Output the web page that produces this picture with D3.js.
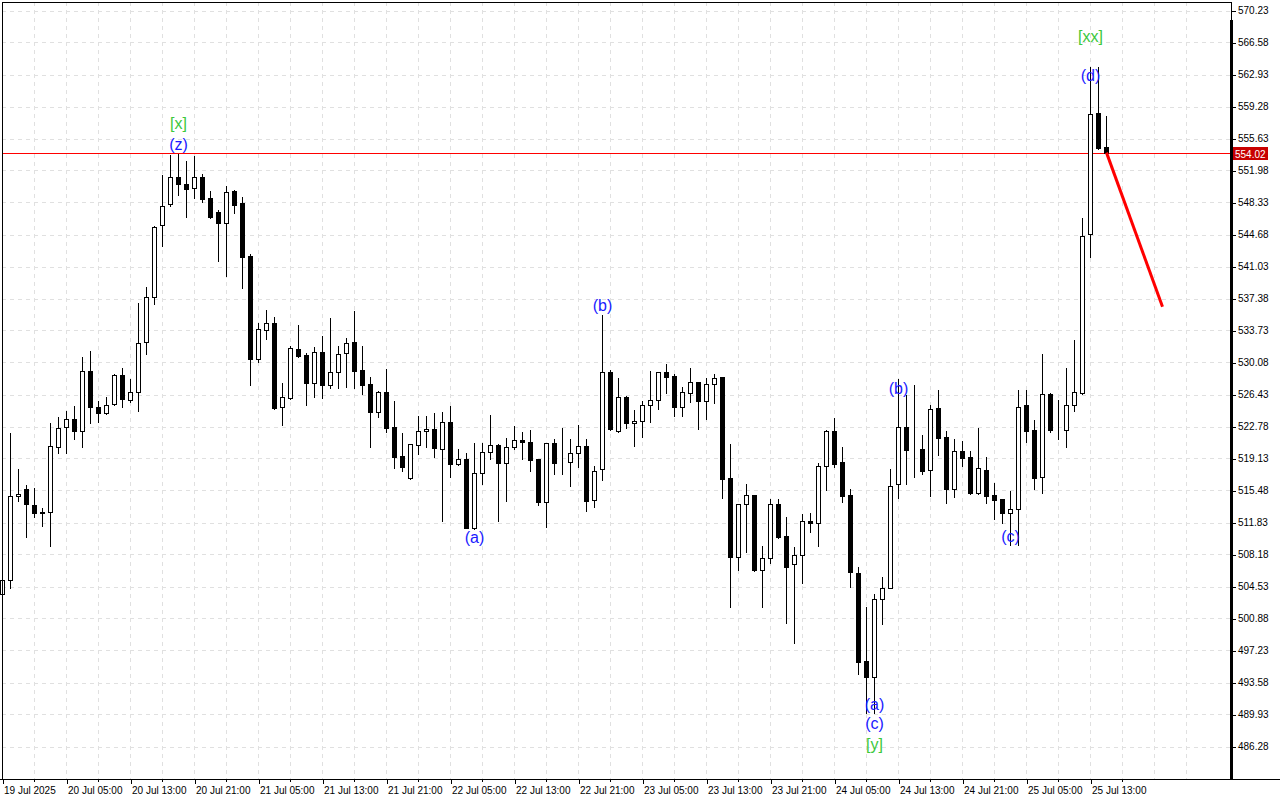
<!DOCTYPE html>
<html>
<head>
<meta charset="utf-8">
<script src="https://cdn.jsdelivr.net/npm/d3@7"></script>
<style>
  html, body { margin: 0; padding: 0; background: #ffffff; }
  svg { display: block; }
</style>
</head>
<body>
<svg id="chart" width="1280" height="800"></svg>
<script>
// ---------------- DATA ----------------
const startTime = Date.UTC(2025, 6, 19, 21, 0); // first bar: 19 Jul 2025 21:00, hourly bars

const opens = [
503.68,505.28,514.82,515.62,513.80,513.03,513.00,520.41,522.69,523.60,
522.30,529.11,525.01,524.36,525.32,528.66,525.77,526.68,532.39,537.52,
545.73,548.13,551.21,550.44,549.95,551.21,548.81,547.22,546.03,549.61,
548.28,542.20,530.52,533.82,534.59,524.97,526.07,531.59,530.94,527.78,
531.28,527.55,528.97,531.13,532.39,529.23,527.60,524.47,526.68,522.73,
519.42,516.94,520.64,522.24,522.46,520.18,523.26,518.47,519.04,511.24,
517.45,519.84,520.67,518.59,520.45,521.21,520.98,519.04,514.14,520.87,
518.70,518.70,519.73,520.56,514.37,517.90,528.97,522.30,526.11,523.15,
523.45,525.20,525.77,528.97,528.54,525.04,526.57,527.82,525.73,527.60,
528.39,516.88,507.93,513.91,514.94,506.42,507.75,513.91,510.29,507.07,
508.09,511.97,511.74,518.31,522.27,518.70,514.94,506.04,496.04,494.18,
503.07,504.40,516.19,522.76,520.14,520.18,517.82,524.86,521.59,515.62,
519.99,519.27,515.23,517.82,514.94,514.48,512.95,513.34,525.27,522.33,
517.02,526.49,522.36,522.36,525.27,526.56,544.74,558.55,554.71
];
const highs = [
505.39,522.01,517.94,516.11,515.73,513.45,523.15,523.83,524.55,525.12,
530.68,531.43,525.69,526.15,528.74,529.46,528.20,536.87,538.69,545.69,
551.47,553.75,553.83,553.07,553.64,551.58,549.64,547.44,550.21,549.76,
548.96,542.46,534.62,536.07,535.27,527.75,531.97,534.36,531.13,531.82,
533.11,535.16,531.97,532.88,535.96,531.97,528.43,526.83,529.34,525.69,
522.01,520.79,523.98,523.98,524.32,524.44,525.12,520.18,519.76,520.87,
520.94,524.10,520.73,521.44,522.81,522.19,522.38,519.07,520.90,521.39,
522.65,521.32,522.92,521.36,518.28,535.50,529.23,528.28,526.26,524.67,
525.69,529.11,529.00,529.91,528.77,527.25,529.42,527.86,528.28,528.77,
528.43,520.75,513.94,516.22,514.97,509.15,514.51,514.51,512.50,509.04,
512.80,512.88,518.65,522.38,523.72,520.41,515.65,506.72,502.16,503.68,
505.65,517.94,528.17,526.38,527.55,521.78,525.27,526.95,522.24,521.36,
521.16,519.99,522.58,519.27,516.37,514.51,515.46,526.95,526.95,523.54,
531.08,526.55,525.85,529.50,532.65,546.58,563.84,563.73,558.15
];
const lows = [
503.45,504.36,514.32,510.14,512.43,511.47,509.19,519.73,519.80,521.32,
520.41,523.22,523.33,524.17,525.20,524.97,525.61,524.59,531.02,536.72,
543.41,547.97,549.15,546.64,548.88,548.42,546.60,541.69,539.95,547.17,
538.61,527.52,530.17,532.76,524.75,522.92,525.89,530.74,525.24,526.18,
526.07,527.21,527.21,527.32,527.21,526.49,520.48,523.90,522.19,518.08,
517.71,516.83,519.65,520.48,519.34,512.04,517.06,518.39,511.17,511.06,
516.19,519.11,512.04,514.32,520.18,519.04,517.71,513.86,511.36,517.40,
517.40,516.03,518.20,513.18,513.60,516.65,522.38,522.12,522.65,520.59,
521.62,523.33,524.81,526.64,524.02,524.02,525.61,522.46,523.67,525.50,
514.66,502.23,506.42,508.50,506.34,502.23,507.18,510.03,500.40,498.05,
504.90,510.78,509.19,515.48,518.20,514.14,504.44,494.55,490.07,490.07,
500.22,504.33,514.59,516.19,517.06,517.37,514.89,519.53,514.02,514.78,
518.31,515.05,515.08,514.02,512.20,511.74,509.27,509.27,520.99,515.65,
515.18,522.17,521.38,520.48,524.52,526.49,542.14,554.43,554.02
];
const closes = [
505.28,514.86,515.05,513.91,512.88,512.92,520.56,522.58,523.60,522.30,
529.11,524.97,524.36,525.20,528.66,525.89,526.68,532.27,537.52,545.50,
547.97,551.21,550.41,549.91,551.21,548.77,546.71,546.03,549.56,548.08,
542.15,530.52,533.87,534.59,524.89,526.11,531.70,530.86,527.78,531.25,
527.55,528.97,531.02,532.31,529.15,527.55,524.47,526.68,522.65,519.34,
518.20,520.75,522.24,522.46,520.30,523.26,518.47,519.04,511.24,517.48,
519.84,520.67,518.59,520.41,521.21,520.98,519.00,514.21,520.87,518.65,
518.68,519.80,520.52,514.32,517.67,528.97,522.46,526.11,523.15,523.41,
525.20,525.77,528.97,528.46,525.04,526.68,527.82,525.73,527.63,528.28,
516.76,507.93,513.91,514.94,506.42,507.75,513.91,510.21,506.79,508.09,
511.97,511.74,518.31,522.25,518.54,514.89,506.15,495.96,494.25,503.07,
504.40,516.03,522.76,520.07,520.07,517.74,524.75,521.51,515.62,519.99,
519.22,515.23,518.02,514.89,514.43,512.95,513.34,525.04,522.25,516.94,
526.49,522.33,522.34,525.19,526.68,544.54,558.39,554.55,554.02
];

const currentPrice = 554.02;

// projected path (bar index, price)
const forecastBars   = [138, 145];
const forecastPrices = [554.02, 536.45];

// wave labels
const waveTexts  = ["[x]", "(z)", "(a)", "(b)", "(b)", "(a)", "(c)", "[y]", "(c)", "(d)", "[xx]"];
const waveBars   = [22, 22, 59, 75, 112, 109, 109, 109, 126, 136, 136];
const wavePrices = [557.29, 554.89, 510.07, 536.53, 527.17, 491.02, 488.96, 486.46, 510.18, 562.76, 567.21];
const waveDegree = ["major","minor","minor","minor","minor","minor","minor","major","minor","minor","major"];

// axis ticks
const priceTicks = [570.23,566.58,562.93,559.28,555.63,551.98,548.33,544.68,541.03,537.38,
                    533.73,530.08,526.43,522.78,519.13,515.48,511.83,508.18,504.53,500.88,
                    497.23,493.58,489.93,486.28];
const timeTickBars = [0,8,16,24,32,40,48,56,64,72,80,88,96,104,112,120,128,136];
const timeTickLabels = ["19 Jul 2025","20 Jul 05:00","20 Jul 13:00","20 Jul 21:00","21 Jul 05:00",
  "21 Jul 13:00","21 Jul 21:00","22 Jul 05:00","22 Jul 13:00","22 Jul 21:00","23 Jul 05:00",
  "23 Jul 13:00","23 Jul 21:00","24 Jul 05:00","24 Jul 13:00","24 Jul 21:00","25 Jul 05:00","25 Jul 13:00"];

// ---------------- LAYOUT ----------------
const W = 1280, H = 800;
const plot = { left: 2, top: 2, right: 1231, bottom: 779 };
const HOUR = 3600 * 1000;
const barTime = i => new Date(startTime + i * HOUR);

const x = d3.scaleUtc()
  .domain([barTime(0), barTime(145)])
  .range([2.5, 2.5 + 8 * 145]);
const y = d3.scaleLinear()
  .domain([486.28, 570.23])
  .range([746.5, 10.5]);

const svg = d3.select("#chart");
const FONT = "'Liberation Sans', Arial, sans-serif";

// grid
const grid = svg.append("g").attr("shape-rendering", "crispEdges");
grid.selectAll("line.h").data(priceTicks).join("line")
  .attr("x1", plot.left).attr("x2", plot.right)
  .attr("y1", d => Math.round(y(d)) + 0.5).attr("y2", d => Math.round(y(d)) + 0.5)
  .attr("stroke", "#e0e0e0").attr("stroke-dasharray", "4,4");
const vGridBars = d3.range(4, 150, 4);
grid.selectAll("line.v").data(vGridBars).join("line")
  .attr("x1", d => x(barTime(d))).attr("x2", d => x(barTime(d)))
  .attr("y1", plot.top).attr("y2", plot.bottom)
  .attr("stroke", "#e0e0e0").attr("stroke-dasharray", "4,4");

// current price line
svg.append("rect")
  .attr("x", plot.left).attr("width", plot.right - plot.left)
  .attr("y", Math.round(y(currentPrice))).attr("height", 1)
  .attr("fill", "#ff0000").attr("shape-rendering", "crispEdges");

// candles
const bars = d3.range(opens.length).map(i => ({
  t: barTime(i), o: opens[i], h: highs[i], l: lows[i], c: closes[i]
}));
const cg = svg.append("g").attr("shape-rendering", "crispEdges");
const candle = cg.selectAll("g").data(bars).join("g");
candle.append("line")
  .attr("x1", d => x(d.t)).attr("x2", d => x(d.t))
  .attr("y1", d => Math.round(y(d.h))).attr("y2", d => Math.round(y(d.l)) + 1)
  .attr("stroke", "#000").attr("stroke-width", 1);
candle.append("rect")
  .attr("x", d => x(d.t) - 2)
  .attr("width", 4)
  .attr("y", d => Math.round(y(Math.max(d.o, d.c))) + 0.5)
  .attr("height", d => Math.max(0, Math.round(y(Math.min(d.o, d.c))) - Math.round(y(Math.max(d.o, d.c)))))
  .attr("fill", d => d.c >= d.o ? "#ffffff" : "#000000")
  .attr("stroke", "#000").attr("stroke-width", 1);

// forecast line
svg.append("path")
  .datum(forecastBars.map((b, i) => [b, forecastPrices[i]]))
  .attr("d", d3.line().x(d => x(barTime(d[0]))).y(d => y(d[1])))
  .attr("fill", "none").attr("stroke", "#ff0000").attr("stroke-width", 3);

// wave labels
svg.append("g").selectAll("text").data(waveTexts).join("text")
  .attr("x", (d, i) => x(barTime(waveBars[i])))
  .attr("y", (d, i) => y(wavePrices[i]))
  .attr("text-anchor", "middle")
  .attr("dominant-baseline", "central")
  .attr("font-family", FONT)
  .attr("font-size", 16)
  .attr("fill", (d, i) => waveDegree[i] === "major" ? "#3cc83c" : "#1a1aff")
  .text(d => d);

// frame
const frame = svg.append("g").attr("shape-rendering", "crispEdges");
frame.append("line").attr("x1", plot.left).attr("x2", plot.right + 1).attr("y1", 2.5).attr("y2", 2.5).attr("stroke", "#000");
frame.append("line").attr("x1", 2.5).attr("x2", 2.5).attr("y1", plot.top).attr("y2", plot.bottom).attr("stroke", "#000");
frame.append("line").attr("x1", 1231.5).attr("x2", 1231.5).attr("y1", plot.top).attr("y2", 22).attr("stroke", "#000");
frame.append("line").attr("x1", 1231.5).attr("x2", 1231.5).attr("y1", 20).attr("y2", plot.bottom).attr("stroke", "#000").attr("stroke-width", 3);

// right price axis
const yAxis = d3.axisRight(y).tickValues(priceTicks).tickFormat(d3.format(".2f")).tickSize(4).tickPadding(2);
const ya = svg.append("g").attr("transform", "translate(1232,0)").call(yAxis);
ya.select(".domain").remove();
ya.selectAll(".tick line").attr("stroke", "#000").attr("shape-rendering", "crispEdges");
ya.selectAll(".tick text").attr("font-family", FONT).attr("font-size", 10).attr("fill", "#000");

// current price tag
const tagY = Math.round(y(currentPrice));
svg.append("rect").attr("x", 1233).attr("y", tagY - 6).attr("width", 35).attr("height", 13).attr("fill", "#c80000");
svg.append("text").attr("x", 1235).attr("y", tagY + 1).attr("dominant-baseline", "central")
  .attr("font-family", FONT).attr("font-size", 10).attr("fill", "#ffffff").text(d3.format(".2f")(currentPrice));

// bottom time axis
const xAxis = d3.axisBottom(x)
  .tickValues(timeTickBars.map(barTime))
  .tickFormat((d, i) => timeTickLabels[i])
  .tickSize(5).tickPadding(3);
const xa = svg.append("g").attr("transform", `translate(0,${plot.bottom})`).call(xAxis);
xa.select(".domain").remove();
xa.selectAll(".tick line").attr("stroke", "#000").attr("shape-rendering", "crispEdges");
xa.selectAll(".tick text").attr("font-family", FONT).attr("font-size", 10).attr("fill", "#000")
  .attr("text-anchor", "start").attr("dx", 1);
// minor ticks between labelled ticks
svg.append("g").attr("shape-rendering", "crispEdges").selectAll("line")
  .data(timeTickBars.map(b => b + 4))
  .join("line")
  .attr("x1", d => x(barTime(d))).attr("x2", d => x(barTime(d)))
  .attr("y1", plot.bottom).attr("y2", plot.bottom + 3).attr("stroke", "#000");
svg.append("line").attr("x1", 0).attr("x2", W).attr("y1", plot.bottom + 0.5).attr("y2", plot.bottom + 0.5)
  .attr("stroke", "#000").attr("shape-rendering", "crispEdges");
</script>
</body>
</html>
